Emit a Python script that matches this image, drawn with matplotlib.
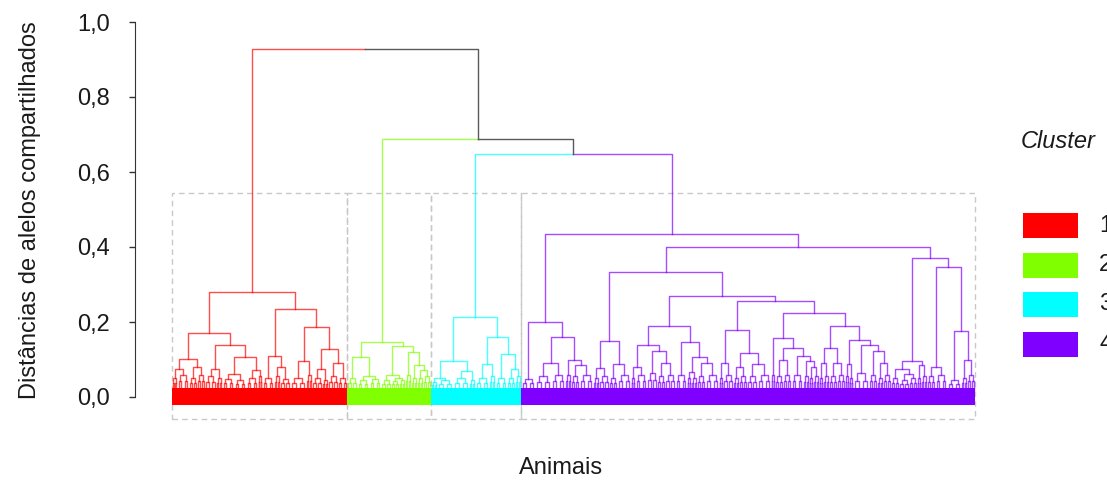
import matplotlib
matplotlib.use("Agg")
import matplotlib.pyplot as plt
from matplotlib.patches import Rectangle

plt.rcParams['font.family'] = ['Liberation Sans', 'DejaVu Sans']

# ---- data ---------------------------------------------------------------
# internal node: [height, left, right]; terminal group of leaves: (n_leaves, height)
red_tree = [0.281,
    [0.172,
        [0.101, [0.075, (5, .050), (12, .058)], [0.081, (8, .052), (8, .060)]],
        [0.139, [0.075, (11, .055), (6, .050)],
                [0.107, [0.061, (12, .048), (12, .045)], [0.073, (12, .050), (4, .055)]]]],
    [0.234,
        [0.109, (12, .050), [0.079, (6, .055), (10, .048)]],
        [0.186, [0.096, (16, .050), (6, .060)],
                [0.127, [0.075, (10, .052), (6, .045)], [0.090, (10, .055), (9, .050)]]]]]

green_tree = [0.146,
    [0.107, (10, .050), [0.055, (12, .045), (12, .048)]],
    [0.137, [0.060, (10, .045), [0.050, (8, .042), (6, .045)]],
            [0.121, (6, .059), [0.085, (6, .050), [0.072, (6, .050), (8, .055)]]]]]

cyan_tree = [0.214,
    [0.096, [0.052, (6, .040), (16, .045)], [0.070, (16, .050), (6, .045)]],
    [0.161, [0.087, (14, .050), (6, .055)], [0.115, (12, .050), [0.074, (8, .050), (6, .055)]]]]

purple_p1 = [0.199, (14, .048),
             [0.159, [0.090, (16, .055), (14, .060)], [0.099, (6, .060), [0.085, (8, .055), (14, .060)]]]]
purple_p2a1 = [0.150, [0.078, (6, .050), (10, .055)], [0.088, (8, .050), (14, .060)]]
purple_q1a = [0.139, [0.081, (4, .050), (12, .060)], [0.124, (10, .065), [0.092, (8, .055), (10, .060)]]]
purple_q1b = [0.148, (12, .060), [0.106, [0.067, (4, .050), (6, .050)], [0.090, (8, .055), (14, .060)]]]
purple_q2a = [0.178, [0.090, (4, .050), (10, .060)],
              [0.118, [0.081, (6, .050), (8, .055)], [0.088, (10, .055), (14, .060)]]]
purple_r1 = [0.158, (4, .060),
             [0.130, [0.099, (8, .055), (8, .060)],
                     [0.109, (12, .060), [0.095, (6, .055), [0.080, (4, .050), (6, .055)]]]]]
purple_r2 = [0.190, [0.132, [0.090, (4, .050), (6, .055)], [0.090, (8, .055), (8, .060)]],
             [0.152, [0.087, (4, .055), (4, .050)],
                     [0.139, (16, .063), [0.124, (8, .060), [0.091, (6, .050), (8, .060)]]]]]
purple_s1 = [0.096, [0.076, (8, .050), [0.062, (10, .045), (8, .050)]], [0.085, (4, .050), (6, .055)]]
purple_s2 = [0.346, [0.081, (8, .055), (12, .060)], [0.176, (14, .045), [0.100, (6, .050), (8, .060)]]]

purple_tree = [0.434, purple_p1,
    [0.399,
        [0.334, purple_p2a1, [0.269, [0.189, purple_q1a, purple_q1b], [0.256, purple_q2a, [0.223, purple_r1, purple_r2]]]],
        [0.372, purple_s1, purple_s2]]]

cluster_trees = [red_tree, green_tree, cyan_tree, purple_tree]
cluster_names = ["1", "2", "3", "4"]
cluster_colors = ["#FF0000", "#80FF00", "#00FFFF", "#8000FF"]

# top merges between clusters (ints = cluster index)
top_tree = [0.928, 0, [0.688, 1, [0.648, 2, 3]]]
rect_top = 0.544

yticks = [0.0, 0.2, 0.4, 0.6, 0.8, 1.0]
ytick_labels = ["0,0", "0,2", "0,4", "0,6", "0,8", "1,0"]

# ---- drawing -------------------------------------------------------------
LINK_BLACK = "#5a5a5a"
LW = 1.0
ALPHA = 0.7
BAND_LO, BAND_HI = -0.02, 0.025
FS = 17

W, H = 1107, 488
fig = plt.figure(figsize=(W / 100, H / 100), dpi=100)
ax = fig.add_axes([135 / W, (H - 440) / H, 865 / W, 425 / H])


def link(xs, ys, color):
    ax.plot(xs, ys, color=color, lw=LW, alpha=ALPHA if color != LINK_BLACK else 1)


def draw_sub(node, start, color):
    if isinstance(node, tuple):
        # terminal group: one bracket at its height, small brackets under each leg
        n, h = node
        lo, hi = start + n * 0.25, start + n * 0.75
        low = BAND_HI + (h - BAND_HI) * 0.5
        link([lo, lo, hi, hi], [low, h, h, low], color)
        for leg in (lo, hi):
            a, b = leg - n * 0.12, leg + n * 0.12
            link([a, a, b, b], [BAND_HI - 0.005, low, low, BAND_HI - 0.005], color)
        return start + n / 2, h, start + n
    h = node[0]
    xl, hl, mid = draw_sub(node[1], start, color)
    xr, hr, end = draw_sub(node[2], mid, color)
    link([xl, xl, xr, xr], [hl, h, h, hr], color)
    return (xl + xr) / 2, h, end


spans = []


def draw_top(node, start):
    if isinstance(node, int):
        color = cluster_colors[node]
        x, h, end = draw_sub(cluster_trees[node], start, color)
        spans.append((start, end, color))
        return x, h, end, color
    h = node[0]
    xl, hl, mid, cl = draw_top(node[1], start)
    xr, hr, end, cr = draw_top(node[2], mid)
    xm = (xl + xr) / 2
    link([xl, xl, xm], [hl, h, h], cl)
    link([xm, xr, xr], [h, h, hr], cr)
    return xm, h, end, LINK_BLACK


draw_top(top_tree, 0)

for s, e, c in spans:
    ax.add_patch(Rectangle((s, BAND_LO), e - s, BAND_HI - BAND_LO, color=c, lw=0, zorder=3))
    ax.add_patch(Rectangle((s, -0.058), e - s, rect_top + 0.058, fill=False,
                           edgecolor="#c8c8c8", lw=1, linestyle=(0, (4, 3)), zorder=1))

ax.set_xlim(-37, -37 + 865)
ax.set_ylim((397 - 440) / 375, (397 - 15) / 375)

for side in ["top", "right", "bottom"]:
    ax.spines[side].set_visible(False)
ax.spines["left"].set_bounds(0, 1)
ax.spines["left"].set_color("#333333")
ax.set_xticks([])
ax.set_yticks(yticks)
ax.set_yticklabels(ytick_labels, fontsize=FS, color="#1a1a1a")
ax.tick_params(axis="y", length=4, width=1, color="#333333", pad=14)

fig.text(30 / W, 1 - 210 / H, "Distâncias de alelos compartilhados", rotation=90,
         ha="center", va="center", fontsize=FS, color="#1a1a1a")
fig.text(561 / W, 1 - 468 / H, "Animais", ha="center", va="center", fontsize=FS, color="#1a1a1a")

# legend
fig.text(1021 / W, 1 - 141 / H, "Cluster", style="italic", ha="left", va="center",
         fontsize=FS, color="#1a1a1a")
for i, (name, c) in enumerate(zip(cluster_names, cluster_colors)):
    ytop = 213 + i * 39.5
    fig.patches.append(Rectangle((1023 / W, 1 - (ytop + 25) / H), 55 / W, 25 / H,
                                 transform=fig.transFigure, color=c, lw=0))
    fig.text(1099 / W, 1 - (ytop + 12.5) / H, name, ha="left", va="center",
             fontsize=FS, color="#1a1a1a")

fig.savefig("out.png", dpi=100)
